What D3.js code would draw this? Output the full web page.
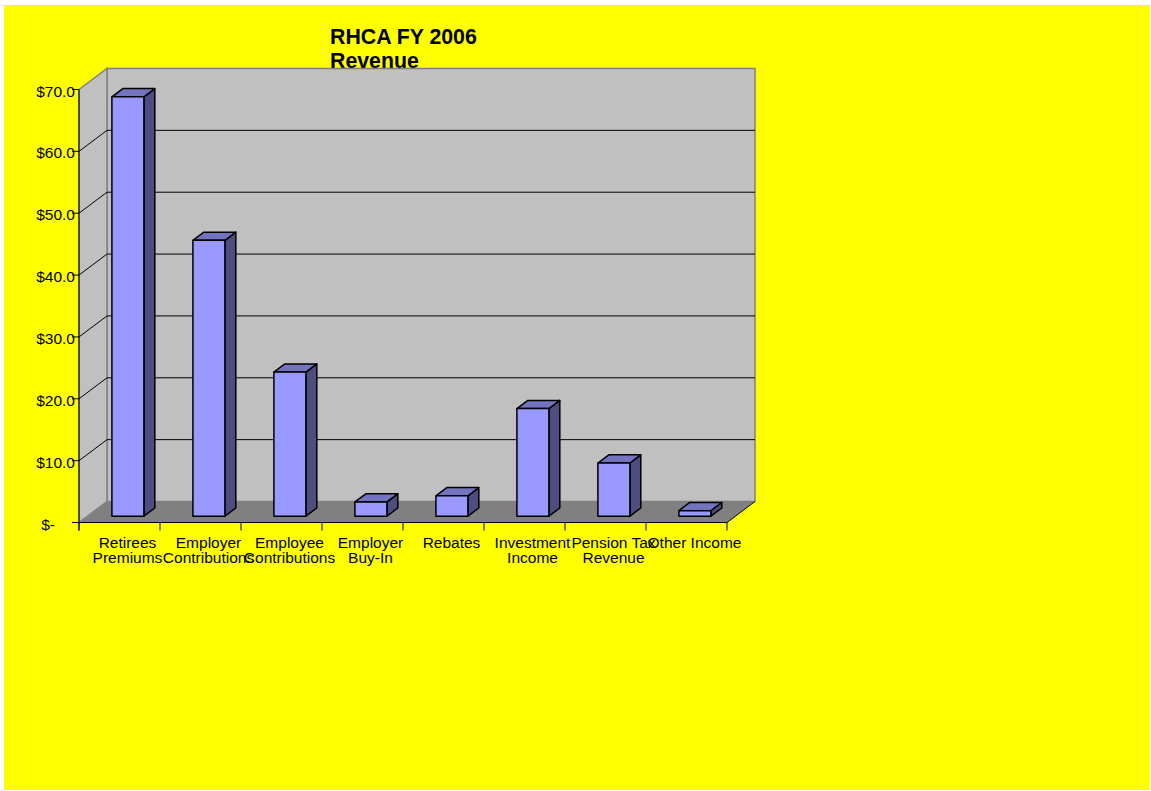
<!DOCTYPE html>
<html>
<head>
<meta charset="utf-8">
<script src="https://cdn.jsdelivr.net/npm/d3@7/dist/d3.min.js"></script>
<style>
  html, body { margin: 0; padding: 0; background: #ffffff; }
  svg { display: block; }
  text { font-family: "Liberation Sans", Arial, sans-serif; }
</style>
</head>
<body>
<script>
// Revenue categories (line breaks mark the wrapped label lines)
const categories = [
  "Retirees\nPremiums",
  "Employer\nContributions",
  "Employee\nContributions",
  "Employer\nBuy-In",
  "Rebates",
  "Investment\nIncome",
  "Pension Tax\nRevenue",
  "Other Income"
];
// Revenue in $ millions
const revenue = [67.8, 44.6, 23.3, 2.3, 3.3, 17.4, 8.6, 0.9];
// Value axis ticks
const yTicks = [0, 10, 20, 30, 40, 50, 60, 70];
const titleLines = ["RHCA FY 2006", "Revenue"];

const W = 1151, H = 791;
const svg = d3.select("body").append("svg").attr("width", W).attr("height", H);

// chart area background
svg.append("rect").attr("x", 4).attr("y", 5).attr("width", W - 5).attr("height", H - 6)
  .attr("fill", "#ffff00");

// oblique projection: the back plane is offset from the front plane
const DX = 28, DY = -21;
const y = d3.scaleLinear().domain([0, 70]).range([522.5, 89.5]);
const x = d3.scaleBand().domain(categories).range([79, 727]).padding(0);
const barFrac = 0.395;             // bar width relative to band
const depth0 = 0.3, depth1 = 0.69; // bar front/back position within the depth

// title (walls are drawn after it)
svg.append("g").selectAll("text").data(titleLines).join("text")
  .attr("x", 330).attr("y", (d, i) => 44 + i * 24)
  .attr("font-size", 21.3).attr("font-weight", "bold").attr("fill", "#000")
  .text(d => d);

const y0 = y(0), yTop = y(70);
const xL = x.range()[0], xR = x.range()[1];

// back wall
svg.append("rect")
  .attr("x", xL + DX).attr("y", yTop + DY)
  .attr("width", xR - xL).attr("height", y0 - yTop)
  .attr("fill", "#c0c0c0").attr("stroke", "#808080").attr("stroke-width", 1.5);

// side wall
svg.append("path")
  .attr("d", `M${xL},${yTop} L${xL + DX},${yTop + DY} L${xL + DX},${y0 + DY} L${xL},${y0} Z`)
  .attr("fill", "#c0c0c0").attr("stroke", "#808080").attr("stroke-width", 1.5);

// floor
svg.append("path")
  .attr("d", `M${xL},${y0} L${xL + DX},${y0 + DY} L${xR + DX},${y0 + DY} L${xR},${y0} Z`)
  .attr("fill", "#808080").attr("stroke", "none");
svg.append("line")
  .attr("x1", xR).attr("y1", y0).attr("x2", xR + DX).attr("y2", y0 + DY)
  .attr("stroke", "#000").attr("stroke-width", 1);

// gridlines on side and back walls
const grid = svg.append("g").attr("stroke", "#000").attr("stroke-width", 1).attr("fill", "none");
yTicks.filter(v => v > 0 && v < 70).forEach(v => {
  const yy = y(v);
  grid.append("path").attr("d", `M${xL},${yy} L${xL + DX},${yy + DY} L${xR + DX},${yy + DY}`);
});

// value axis
const axis = svg.append("g").attr("stroke", "#000").attr("stroke-width", 1);
axis.append("line").attr("x1", xL).attr("x2", xL).attr("y1", yTop).attr("y2", y0 + 8);
axis.append("line").attr("x1", xL - 7).attr("x2", xR).attr("y1", y0).attr("y2", y0);
yTicks.forEach(v => {
  axis.append("line").attr("x1", xL - 7).attr("x2", xL).attr("y1", y(v)).attr("y2", y(v));
});
// category axis ticks at band boundaries
categories.concat([null]).forEach(c => {
  const xx = c === null ? xR : x(c);
  axis.append("line").attr("x1", xx).attr("x2", xx).attr("y1", y0).attr("y2", y0 + 8);
});

const fmt = v => v === 0 ? "$-" : "$" + d3.format(".1f")(v);
svg.append("g").selectAll("text").data(yTicks).join("text")
  .attr("x", v => v === 0 ? 55 : 75)
  .attr("y", v => y(v) + 7)
  .attr("text-anchor", "end").attr("font-size", 15.5).attr("fill", "#000")
  .text(fmt);

// bars
const bw = x.bandwidth() * barFrac;
const bars = svg.append("g").attr("stroke", "#000").attr("stroke-width", 1.5).attr("stroke-linejoin", "round");
categories.forEach((c, i) => {
  const v = revenue[i];
  const cx = x(c) + x.bandwidth() / 2;
  const fx = cx - bw / 2 + depth0 * DX;
  const fyTop = y(v) + depth0 * DY;
  const fyBot = y0 + depth0 * DY;
  const dx = (depth1 - depth0) * DX, dy = (depth1 - depth0) * DY;
  // right side face
  bars.append("path")
    .attr("d", `M${fx + bw},${fyTop} L${fx + bw + dx},${fyTop + dy} L${fx + bw + dx},${fyBot + dy} L${fx + bw},${fyBot} Z`)
    .attr("fill", "#4d4d80");
  // top face
  bars.append("path")
    .attr("d", `M${fx},${fyTop} L${fx + dx},${fyTop + dy} L${fx + bw + dx},${fyTop + dy} L${fx + bw},${fyTop} Z`)
    .attr("fill", "#7373bf");
  // front face
  bars.append("rect")
    .attr("x", fx).attr("y", fyTop).attr("width", bw).attr("height", fyBot - fyTop)
    .attr("fill", "#9999ff");
});

// category labels
const labels = svg.append("g").attr("font-size", 15.5).attr("fill", "#000").attr("text-anchor", "middle");
categories.forEach(c => {
  const cx = x(c) + x.bandwidth() / 2 + 8;
  c.split("\n").forEach((line, j) => {
    labels.append("text").attr("x", cx).attr("y", 548 + j * 14.5).text(line);
  });
});
</script>
</body>
</html>
